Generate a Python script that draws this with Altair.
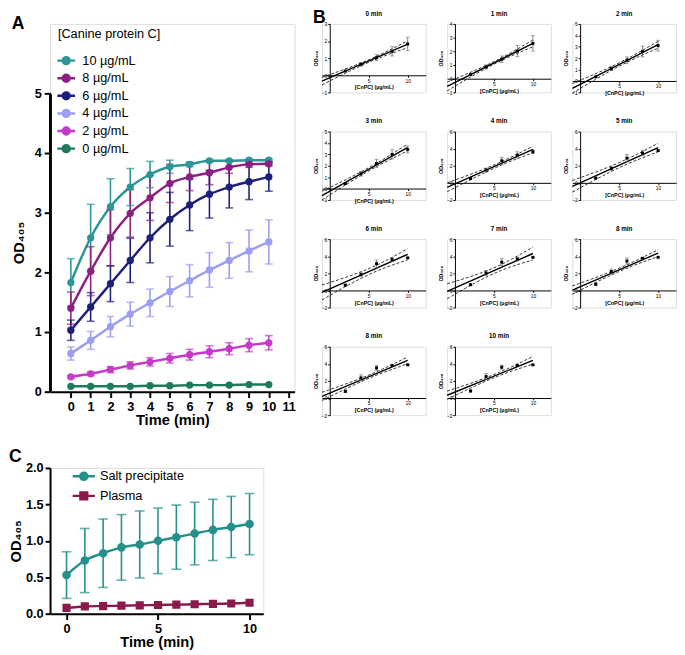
import altair as alt
import numpy as np
import pandas as pd

FONT = "Liberation Sans"

# ---------------- Panel A data ----------------
time_min = [0, 1, 2, 3, 4, 5, 6, 7, 8, 9, 10]
a_xticks = [0, 1, 2, 3, 4, 5, 6, 7, 8, 9, 10, 11]
a_yticks = [0, 1, 2, 3, 4, 5]
series_a = ["10 µg/mL", "8 µg/mL", "6 µg/mL", "4 µg/mL", "2 µg/mL", "0 µg/mL"]
colors_a = ["#2b9696", "#8c1f84", "#1d1f7c", "#9c9ef2", "#c63ac9", "#1e7a5c"]

od_10 = [1.83, 2.58, 3.10, 3.43, 3.64, 3.77, 3.81, 3.87, 3.87, 3.88, 3.88]
sd_10 = [0.40, 0.56, 0.47, 0.31, 0.22, 0.11, 0.04, 0.02, 0.02, 0.02, 0.02]
od_8 = [1.40, 2.02, 2.58, 2.99, 3.25, 3.49, 3.60, 3.67, 3.76, 3.81, 3.82]
sd_8 = [0.27, 0.41, 0.47, 0.40, 0.38, 0.32, 0.23, 0.20, 0.10, 0.05, 0.03]
od_6 = [1.03, 1.42, 1.81, 2.20, 2.58, 2.89, 3.13, 3.31, 3.43, 3.52, 3.60]
sd_6 = [0.17, 0.24, 0.30, 0.37, 0.42, 0.45, 0.43, 0.40, 0.35, 0.30, 0.24]
od_4 = [0.64, 0.86, 1.09, 1.30, 1.49, 1.68, 1.86, 2.04, 2.20, 2.36, 2.51]
sd_4 = [0.11, 0.15, 0.17, 0.20, 0.23, 0.25, 0.27, 0.29, 0.30, 0.35, 0.37]
od_2 = [0.25, 0.30, 0.37, 0.44, 0.50, 0.56, 0.62, 0.67, 0.72, 0.78, 0.82]
sd_2 = [0.02, 0.03, 0.05, 0.06, 0.07, 0.08, 0.09, 0.10, 0.10, 0.11, 0.12]
od_0 = [0.09, 0.09, 0.09, 0.09, 0.10, 0.10, 0.11, 0.11, 0.11, 0.12, 0.12]
sd_0 = [0.0, 0.0, 0.0, 0.0, 0.0, 0.0, 0.0, 0.0, 0.0, 0.0, 0.0]

# ---------------- Panel B data ----------------
b_conc = [2, 4, 6, 8, 10]
b_times = [0, 1, 2, 3, 4, 5, 6, 7, 8, 9, 10]
b_titles = ["0 min", "1 min", "2 min", "3 min", "4 min", "5 min",
            "6 min", "7 min", "8 min", "8 min", "10 min"]
b_ymin = [-1, -1, -1, -1, -2, -2, -2, -2, -2, -2, -2]
b_ymax = [3, 4, 5, 5, 6, 6, 6, 6, 6, 6, 6]
b_ystep = [1, 1, 1, 1, 2, 2, 2, 2, 2, 2, 2]
b_xticks = [0, 5, 10]
# half-width of dashed 95% band read at x = -1, 6, 10
band_x = [-1, 6, 10]
band_hw_start = [0.22, 0.32, 0.42, 0.38, 0.52, 0.68, 0.88, 0.88, 0.48, 0.48, 0.48]
band_hw_mid = [0.08, 0.10, 0.15, 0.15, 0.20, 0.30, 0.35, 0.35, 0.20, 0.20, 0.20]
band_hw_end = [0.20, 0.25, 0.30, 0.30, 0.38, 0.50, 0.65, 0.75, 0.40, 0.40, 0.45]

# ---------------- Panel C data ----------------
series_c = ["Salt precipitate", "Plasma"]
colors_c = ["#23908a", "#8a1a4c"]
c_xticks = [0, 5, 10]
c_yticks = [0.0, 0.5, 1.0, 1.5, 2.0]
salt_od = [0.53, 0.73, 0.83, 0.91, 0.95, 1.00, 1.05, 1.10, 1.15, 1.19, 1.23]
salt_sd = [0.32, 0.44, 0.47, 0.45, 0.46, 0.45, 0.44, 0.43, 0.42, 0.42, 0.42]
plasma_od = [0.08, 0.10, 0.105, 0.11, 0.115, 0.12, 0.125, 0.13, 0.135, 0.14, 0.15]
plasma_sd = [0.0, 0.0, 0.0, 0.0, 0.0, 0.0, 0.0, 0.0, 0.0, 0.0, 0.0]

PATH_CIRCLE = "M-1.28,0H1.28M-0.5,0A0.5,0.5,0,1,0,0.5,0A0.5,0.5,0,1,0,-0.5,0Z"
PATH_C_CIRCLE = "M-1.25,0H1.25M-0.4,0A0.4,0.4,0,1,0,0.4,0A0.4,0.4,0,1,0,-0.4,0Z"
PATH_C_SQUARE = "M-1.25,0H1.25M-0.38,-0.38H0.38V0.38H-0.38Z"


def big_axis(title, values, fmt, **kw):
    opts = dict(grid=False, labelOverlap=False, labelFlush=False,
                domainColor="black", domainWidth=2, tickColor="black",
                tickWidth=2, tickSize=6, labelFont=FONT, labelFontSize=13,
                labelFontWeight="bold", labelColor="black", labelPadding=3,
                titleFont=FONT, titleFontSize=15, titleFontWeight="bold",
                titleColor="black")
    opts.update(kw)
    return alt.Axis(title=title, values=values, format=fmt, **opts)


# ---------------- Panel A chart ----------------
rows = []
for name, od, sd in zip(series_a, [od_10, od_8, od_6, od_4, od_2, od_0],
                        [sd_10, sd_8, sd_6, sd_4, sd_2, sd_0]):
    for t, v, s in zip(time_min, od, sd):
        rows.append(dict(series=name, time=t, od=v, sd=s, lo=v - s, hi=v + s))
dfa = pd.DataFrame(rows)

A_W, A_H = 250, 376
A_XDOM = [-1.05, 11.3]
A_YTOP = 5 * 376 / 305  # extra room above the axis for the legend
scale_a = alt.Scale(domain=series_a, range=colors_a)
ax_ax = big_axis("Time (min)", a_xticks, "d", titlePadding=0)
ax_ay = big_axis("OD₄₀₅", a_yticks, "d", titlePadding=8, domain=False,
                 titleY=(A_H - 305) + 305 / 2)
sx_a = alt.Scale(domain=A_XDOM, nice=False, zero=False)
sy_a = alt.Scale(domain=[0, A_YTOP], nice=False, zero=False)
leg_a = alt.Legend(title="[Canine protein C]", orient="none", legendX=8, legendY=4,
                   symbolType=PATH_CIRCLE, symbolSize=199, symbolStrokeWidth=2.5,
                   symbolOpacity=1, titleFont=FONT, titleFontSize=13,
                   titleFontWeight="normal", titleColor="black", titlePadding=12,
                   labelFont=FONT, labelFontSize=13, labelColor="black",
                   rowPadding=-3, labelOffset=8)


def XA(f):
    return alt.X(f, scale=sx_a, axis=ax_ax)


def YA(f):
    return alt.Y(f, scale=sy_a, axis=ax_ay)


base_a = alt.Chart(dfa)
line_a = base_a.mark_line(strokeWidth=2.5, interpolate="monotone").encode(
    x=XA("time:Q"), y=YA("od:Q"),
    stroke=alt.Stroke("series:N", scale=scale_a, legend=leg_a))
yaxis_line = base_a.mark_rule(color="black", strokeWidth=2).encode(
    x=alt.value(0),
    y=alt.YDatum(a_yticks[0], scale=sy_a, axis=ax_ay),
    y2=alt.Y2Datum(a_yticks[-1]))
eb_a = base_a.transform_filter("datum.sd > 0")
rule_a = eb_a.mark_rule(strokeWidth=1.6).encode(
    x=XA("time:Q"), y=YA("lo:Q"), y2="hi:Q",
    stroke=alt.Stroke("series:N", scale=scale_a, legend=leg_a))
caplo_a = eb_a.mark_tick(orient="horizontal", size=8, thickness=1.6).encode(
    x=XA("time:Q"), y=YA("lo:Q"), color=alt.Color("series:N", scale=scale_a, legend=None))
caphi_a = eb_a.mark_tick(orient="horizontal", size=8, thickness=1.6).encode(
    x=XA("time:Q"), y=YA("hi:Q"), color=alt.Color("series:N", scale=scale_a, legend=None))
pts_a = base_a.mark_point(filled=True, size=55, opacity=1, shape="circle").encode(
    x=XA("time:Q"), y=YA("od:Q"), fill=alt.Fill("series:N", scale=scale_a, legend=leg_a))

chart_a = alt.layer(line_a, yaxis_line, rule_a, caplo_a, caphi_a, pts_a).properties(
    width=A_W, height=A_H,
    title=alt.Title("A", anchor="start", fontSize=18, fontWeight="bold", font=FONT,
                    color="black", offset=-9))

# ---------------- Panel B charts ----------------
od_by_conc = {10: od_10, 8: od_8, 6: od_6, 4: od_4, 2: od_2}
sd_by_conc = {10: sd_10, 8: sd_8, 6: sd_6, 4: sd_4, 2: sd_2}
BW, BH = 106, 70
BX_DOM = [-1, 12.3]


def b_panel(i):
    t = b_times[i]
    vals = [od_by_conc[c][t] for c in b_conc]
    sds = [sd_by_conc[c][t] for c in b_conc]
    df = pd.DataFrame(dict(conc=b_conc, od=vals, lo=[v - s for v, s in zip(vals, sds)],
                           hi=[v + s for v, s in zip(vals, sds)]))
    fit = np.polyfit(b_conc, vals, 1)
    hw = [band_hw_start[i], band_hw_mid[i], band_hw_end[i]]
    band_rows = []
    for side, sign in (("up", 1), ("low", -1)):
        for x, h in zip(band_x, hw):
            band_rows.append(dict(side=side, conc=x, od=float(np.polyval(fit, x)) + sign * h))
    dfb = pd.DataFrame(band_rows)
    ymin, ymax, step = b_ymin[i], b_ymax[i], b_ystep[i]
    xoff = -BH * (0 - ymin) / (ymax - ymin)
    yoff = -BW * (0 - BX_DOM[0]) / (BX_DOM[1] - BX_DOM[0])
    common = dict(grid=False, labelOverlap=False, labelFlush=False, domainColor="black",
                  domainWidth=1, tickColor="black", tickWidth=1, tickSize=2,
                  labelFont=FONT, labelFontSize=5, labelColor="black", labelPadding=1,
                  titleFont=FONT, titleFontSize=5.5, titleFontWeight="bold",
                  titleColor="black", format="d")
    ax_x = alt.Axis(title="[CnPC] (µg/mL)", values=b_xticks, offset=xoff,
                    labelExpr="datum.value == 0 ? '' : datum.label",
                    titlePadding=2, **common)
    ax_y = alt.Axis(title="OD₄₀₅", values=list(range(ymin, ymax + 1, step)),
                    offset=yoff, titlePadding=3, **common)
    sx = alt.Scale(domain=BX_DOM, nice=False, zero=False)
    sy = alt.Scale(domain=[ymin, ymax], nice=False, zero=False)

    def XB(f):
        return alt.X(f, scale=sx, axis=ax_x)

    def YB(f):
        return alt.Y(f, scale=sy, axis=ax_y)

    base = alt.Chart(df)
    band = alt.Chart(dfb).mark_line(color="black", strokeWidth=0.8, strokeDash=[3, 2],
                                    interpolate="monotone").encode(
        x=XB("conc:Q"), y=YB("od:Q"), detail="side:N")
    reg = base.transform_regression("conc", "od", extent=[-1, 10]).mark_line(
        color="black", strokeWidth=1.4).encode(x=XB("conc:Q"), y=YB("od:Q"))
    rule = base.mark_rule(color="#666666", strokeWidth=0.8).encode(
        x=XB("conc:Q"), y=YB("lo:Q"), y2="hi:Q")
    cap1 = base.mark_tick(orient="horizontal", size=4, thickness=0.8, color="#666666").encode(
        x=XB("conc:Q"), y=YB("lo:Q"))
    cap2 = base.mark_tick(orient="horizontal", size=4, thickness=0.8, color="#666666").encode(
        x=XB("conc:Q"), y=YB("hi:Q"))
    pts = base.mark_point(filled=True, size=9, opacity=1, color="black", shape="square").encode(
        x=XB("conc:Q"), y=YB("od:Q"))
    return alt.layer(band, reg, rule, cap1, cap2, pts).properties(
        width=BW, height=BH,
        title=alt.Title(b_titles[i], fontSize=6.5, fontWeight="bold", font=FONT,
                        color="black", offset=5))


panels = [b_panel(i) for i in range(len(b_times))]
chart_b = alt.concat(*panels, columns=3, spacing=alt.RowColnumber(row=40, column=22),
                     bounds="flush").properties(
    title=alt.Title("B", anchor="start", fontSize=18, fontWeight="bold", font=FONT,
                    color="black", offset=-17))

# ---------------- Panel C chart ----------------
rows = []
for name, od, sd in zip(series_c, [salt_od, plasma_od], [salt_sd, plasma_sd]):
    for t, v, s in zip(time_min, od, sd):
        rows.append(dict(series=name, time=t, od=v, sd=s, lo=v - s, hi=v + s))
dfc = pd.DataFrame(rows)
scale_c = alt.Scale(domain=series_c, range=colors_c)
shape_c = alt.Scale(domain=series_c, range=[PATH_C_CIRCLE, PATH_C_SQUARE])
leg_c = alt.Legend(title=None, orient="none", legendX=24, legendY=-2,
                   symbolSize=330, symbolStrokeWidth=2.5, symbolOpacity=1,
                   labelFont=FONT, labelFontSize=13, labelColor="black",
                   rowPadding=0, labelOffset=6)
ax_cx = big_axis("Time (min)", c_xticks, "d", titlePadding=0)
ax_cy = big_axis("OD₄₀₅", c_yticks, ".1f", titlePadding=2, tickSize=5, labelPadding=2)
sx_c = alt.Scale(domain=[-0.9, 10.75], nice=False, zero=False)
sy_c = alt.Scale(domain=[0, 2], nice=False, zero=False)


def XC(f):
    return alt.X(f, scale=sx_c, axis=ax_cx)


def YC(f):
    return alt.Y(f, scale=sy_c, axis=ax_cy)


base_c = alt.Chart(dfc)
line_c = base_c.mark_line(strokeWidth=2.5, interpolate="monotone").encode(
    x=XC("time:Q"), y=YC("od:Q"),
    stroke=alt.Stroke("series:N", scale=scale_c, legend=leg_c))
eb_c = base_c.transform_filter("datum.sd > 0")
rule_c = eb_c.mark_rule(strokeWidth=1.6).encode(
    x=XC("time:Q"), y=YC("lo:Q"), y2="hi:Q",
    stroke=alt.Stroke("series:N", scale=scale_c, legend=leg_c))
caplo_c = eb_c.mark_tick(orient="horizontal", size=10, thickness=1.6).encode(
    x=XC("time:Q"), y=YC("lo:Q"), color=alt.Color("series:N", scale=scale_c, legend=None))
caphi_c = eb_c.mark_tick(orient="horizontal", size=10, thickness=1.6).encode(
    x=XC("time:Q"), y=YC("hi:Q"), color=alt.Color("series:N", scale=scale_c, legend=None))
pts_c = base_c.mark_point(filled=True, size=480, opacity=1).encode(
    x=XC("time:Q"), y=YC("od:Q"),
    fill=alt.Fill("series:N", scale=scale_c, legend=leg_c),
    shape=alt.Shape("series:N", scale=shape_c, legend=leg_c))
chart_c = alt.layer(line_c, rule_c, caplo_c, caphi_c, pts_c).properties(
    width=218, height=149,
    title=alt.Title("C", anchor="start", fontSize=18, fontWeight="bold", font=FONT,
                    color="black", offset=-4))

top = alt.hconcat(chart_a, chart_b, spacing=16)
chart = alt.vconcat(top, chart_c, spacing=19).properties(
    padding={"left": 0, "top": -6, "right": 0, "bottom": 0}
).resolve_scale(color="independent", stroke="independent", fill="independent",
                shape="independent").configure_view(stroke=None).configure(font=FONT)

chart.save("out.html", embed_options={"renderer": "svg", "actions": False})
